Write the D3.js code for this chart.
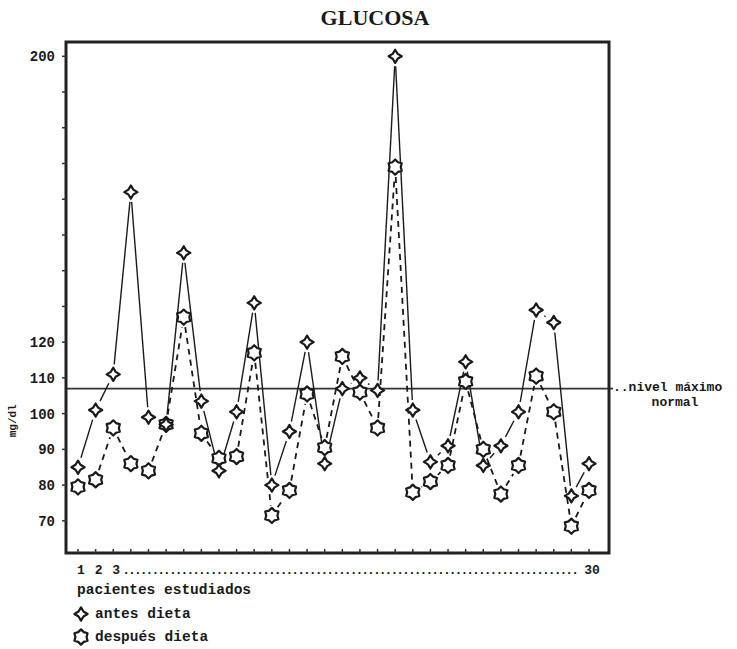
<!DOCTYPE html>
<html><head><meta charset="utf-8">
<script src="https://cdn.jsdelivr.net/npm/d3@7"></script>
<style>body{margin:0;background:#fff}</style>
</head><body>
<svg id="c" width="737" height="649"></svg>
<script>
// ---- data ----
const title = "GLUCOSA";
const patients = d3.range(1, 31);
const antes = [85, 101, 111, 162, 99, 97, 145, 103.5, 84, 100.5, 131, 80, 95, 120, 86, 107, 110, 106.5, 200, 101, 86.5, 91, 114.5, 85.5, 91, 100.5, 129, 125.5, 77, 86];
const despues = [79.5, 81.5, 96, 86, 84, 97, 127, 94.5, 87.5, 88, 117, 71.5, 78.5, 105.5, 90.5, 116, 106, 96, 169, 78, 81, 85.5, 109, 90, 77.5, 85.5, 110.5, 100.5, 68.5, 78.5];
const yTickValues = [70, 80, 90, 100, 110, 120, 130, 140, 150, 160, 170, 180, 190, 200];
const yLabelValues = [70, 80, 90, 100, 110, 120, 200];
const xLabelValues = [1, 2, 3, 30];
const refLevel = 107;
const yUnit = "mg/dl";
const xTitle = "pacientes estudiados";
const refLabel1 = "..nivel máximo";
const refLabel2 = "normal";
const legendLabels = ["antes dieta", "después dieta"];

// ---- layout ----
const svg = d3.select("#c");
const L = 66, R = 609, T = 42, B = 553;
const x = d3.scaleLinear().domain([1, 30]).range([78, 589]);
const y = d3.scaleLinear().domain([61, 204]).range([B, T]);
const mono = "'Liberation Mono','DejaVu Sans Mono',monospace";
const ink = "#1a1a1a";

// title
svg.append("text").attr("x", 375).attr("y", 25).attr("text-anchor", "middle")
  .attr("font-family", "'Liberation Serif','Times New Roman',serif").attr("font-weight", "bold")
  .attr("font-size", 22).attr("fill", ink).text(title);

// reference line
svg.append("line").attr("x1", L).attr("x2", R + 4).attr("y1", y(refLevel)).attr("y2", y(refLevel))
  .attr("stroke", "#333").attr("stroke-width", 1.6);
svg.append("text").attr("x", R + 4).attr("y", y(refLevel) + 2).attr("font-family", mono)
  .attr("font-weight", "bold").attr("font-size", 13).attr("fill", ink).text(refLabel1);
svg.append("text").attr("x", 675).attr("y", y(refLevel) + 17).attr("text-anchor", "middle").attr("font-family", mono)
  .attr("font-weight", "bold").attr("font-size", 13).attr("fill", ink).text(refLabel2);

// segments with gaps
function segs(vals, gap) {
  const out = [];
  for (let i = 0; i < vals.length - 1; i++) {
    const x1 = x(patients[i]), y1 = y(vals[i]), x2 = x(patients[i + 1]), y2 = y(vals[i + 1]);
    const dx = x2 - x1, dy = y2 - y1, len = Math.hypot(dx, dy);
    if (len <= 2 * gap) continue;
    const ux = dx / len, uy = dy / len;
    out.push([x1 + ux * gap, y1 + uy * gap, x2 - ux * gap, y2 - uy * gap]);
  }
  return out;
}
svg.append("g").selectAll("line").data(segs(despues, 10)).join("line")
  .attr("x1", d => d[0]).attr("y1", d => d[1]).attr("x2", d => d[2]).attr("y2", d => d[3])
  .attr("stroke", ink).attr("stroke-width", 1.8).attr("stroke-dasharray", "6,5");
svg.append("g").selectAll("line").data(segs(antes, 10)).join("line")
  .attr("x1", d => d[0]).attr("y1", d => d[1]).attr("x2", d => d[2]).attr("y2", d => d[3])
  .attr("stroke", ink).attr("stroke-width", 1.4);

// marker shapes
function starPath(n, ro, ri) {
  const pts = [];
  for (let k = 0; k < 2 * n; k++) {
    const a = -Math.PI / 2 + k * Math.PI / n;
    const r = k % 2 === 0 ? ro : ri;
    pts.push([r * Math.cos(a), r * Math.sin(a)]);
  }
  return "M" + pts.map(p => p[0].toFixed(2) + "," + p[1].toFixed(2)).join("L") + "Z";
}
const crossPath = starPath(4, 6.6, 3.5);
const hexPath = starPath(6, 7.6, 5.6);

svg.append("g").selectAll("path").data(despues).join("path")
  .attr("d", hexPath).attr("transform", (d, i) => `translate(${x(patients[i])},${y(d)})`)
  .attr("fill", "#fff").attr("stroke", ink).attr("stroke-width", 2.2).attr("stroke-linejoin", "round");
svg.append("g").selectAll("path").data(antes).join("path")
  .attr("d", crossPath).attr("transform", (d, i) => `translate(${x(patients[i])},${y(d)})`)
  .attr("fill", "#fff").attr("stroke", ink).attr("stroke-width", 2.2).attr("stroke-linejoin", "round");

// frame
svg.append("rect").attr("x", L).attr("y", T).attr("width", R - L).attr("height", B - T)
  .attr("fill", "none").attr("stroke", "#222").attr("stroke-width", 3);

// y ticks & labels
svg.append("g").selectAll("line").data(yTickValues).join("line")
  .attr("x1", L - 4).attr("x2", L).attr("y1", d => y(d)).attr("y2", d => y(d))
  .attr("stroke", "#333").attr("stroke-width", 1.5);
svg.append("g").selectAll("text").data(yLabelValues).join("text")
  .attr("x", 55).attr("y", d => y(d) + 5).attr("text-anchor", "end")
  .attr("font-family", mono).attr("font-weight", "bold").attr("font-size", 14).attr("fill", ink)
  .text(d => d);
svg.append("text").attr("transform", `translate(16,${y(98)}) rotate(-90)`).attr("text-anchor", "middle")
  .attr("font-family", mono).attr("font-weight", "bold").attr("font-size", 11).attr("fill", ink).text(yUnit);

// x ticks
svg.append("g").selectAll("line").data(patients).join("line")
  .attr("x1", d => x(d)).attr("x2", d => x(d)).attr("y1", B).attr("y2", B - 4)
  .attr("stroke", "#333").attr("stroke-width", 1.5);
svg.append("g").selectAll("text").data(xLabelValues).join("text")
  .attr("x", d => x(d) + 3).attr("y", 574).attr("text-anchor", "middle")
  .attr("font-family", mono).attr("font-weight", "bold").attr("font-size", 13).attr("fill", ink).text(d => d);
const dotStart = x(3) + 9, dotEnd = x(30) - 10;
svg.append("text").attr("x", dotStart).attr("y", 574)
  .attr("font-family", mono).attr("font-weight", "bold").attr("font-size", 13).attr("fill", ink)
  .attr("textLength", dotEnd - dotStart).attr("lengthAdjust", "spacing").text(".".repeat(78));

svg.append("text").attr("x", 77).attr("y", 594).attr("font-family", mono).attr("font-weight", "bold")
  .attr("font-size", 14.5).attr("fill", ink).text(xTitle);

// legend
const legPaths = [crossPath, hexPath];
const lg = svg.append("g").selectAll("g").data(legendLabels).join("g")
  .attr("transform", (d, i) => `translate(81,${614 + i * 23})`);
lg.append("path").attr("d", (d, i) => legPaths[i]).attr("fill", "#fff").attr("stroke", ink)
  .attr("stroke-width", 2.2).attr("stroke-linejoin", "round");
lg.append("text").attr("x", 14).attr("y", 4).attr("font-family", mono).attr("font-weight", "bold")
  .attr("font-size", 14.5).attr("fill", ink).text(d => d);
</script>
</body></html>
